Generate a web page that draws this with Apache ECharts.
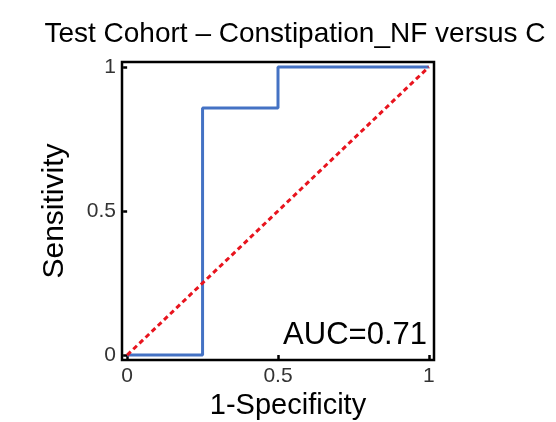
<!DOCTYPE html>
<html>
<head>
<meta charset="utf-8">
<script src="https://cdn.jsdelivr.net/npm/echarts@6/dist/echarts.min.js"></script>
<style>
  html, body { margin: 0; padding: 0; background: #fff; }
  #chart { width: 556px; height: 422px; }
</style>
</head>
<body>
<div id="chart"></div>
<script>
// ROC-Kurve (Test Cohort)
const fprValues = [0, 0.25, 0.25, 0.5, 0.5, 1];
const tprValues = [0, 0, 0.857, 0.857, 1, 1];
const diagonal = [[0, 0], [1, 1]];
const tickValues = [0, 0.5, 1];
const aucText = 'AUC=0.71';

const chart = echarts.init(document.getElementById('chart'));
const font = 'Liberation Sans, Arial, sans-serif';

const axisCommon = {
  type: 'value',
  min: -0.017,
  max: 1.017,
  splitLine: { show: false },
  axisLine: { show: false },
  axisTick: { show: true, length: 4, customValues: tickValues, lineStyle: { color: '#000', width: 2.5 } },
  axisLabel: {
    customValues: tickValues,
    color: '#333',
    fontSize: 21,
    fontFamily: font,
    margin: 6,
    formatter: v => String(Math.round(v * 10) / 10)
  },
  nameLocation: 'middle',
  nameTextStyle: { color: '#000', fontSize: 30, fontFamily: font }
};

chart.setOption({
  animation: false,
  title: {
    text: 'Test Cohort \u2013 Constipation_NF versus C',
    left: 290,
    textAlign: 'center',
    top: 15,
    textStyle: { color: '#000', fontSize: 28, fontWeight: 'normal', fontFamily: font }
  },
  grid: {
    left: 122, right: 122, top: 62, bottom: 62,
    outerBoundsMode: 'none',
    containLabel: false,
    show: true, borderColor: '#000', borderWidth: 2.5, backgroundColor: '#fff'
  },
  xAxis: Object.assign({}, axisCommon, {
    name: '1-Specificity',
    nameGap: 31,
    nameTextStyle: Object.assign({}, axisCommon.nameTextStyle, { fontSize: 29, padding: [0, 0, 0, 20] })
  }),
  yAxis: Object.assign({}, axisCommon, {
    name: 'Sensitivity',
    nameGap: 52
  }),
  series: [
    {
      type: 'line',
      data: fprValues.map((x, i) => [x, tprValues[i]]),
      symbol: 'none',
      lineStyle: { color: '#4472c4', width: 3 },
      z: 2
    },
    {
      type: 'line',
      data: diagonal,
      symbol: 'none',
      lineStyle: { color: '#e8141e', width: 3, type: [5, 3.5] },
      z: 3
    }
  ],
  graphic: [{
    type: 'text',
    right: 129,
    top: 320,
    style: { text: aucText, fill: '#000', fontSize: 31, fontFamily: font }
  }]
});
</script>
</body>
</html>
